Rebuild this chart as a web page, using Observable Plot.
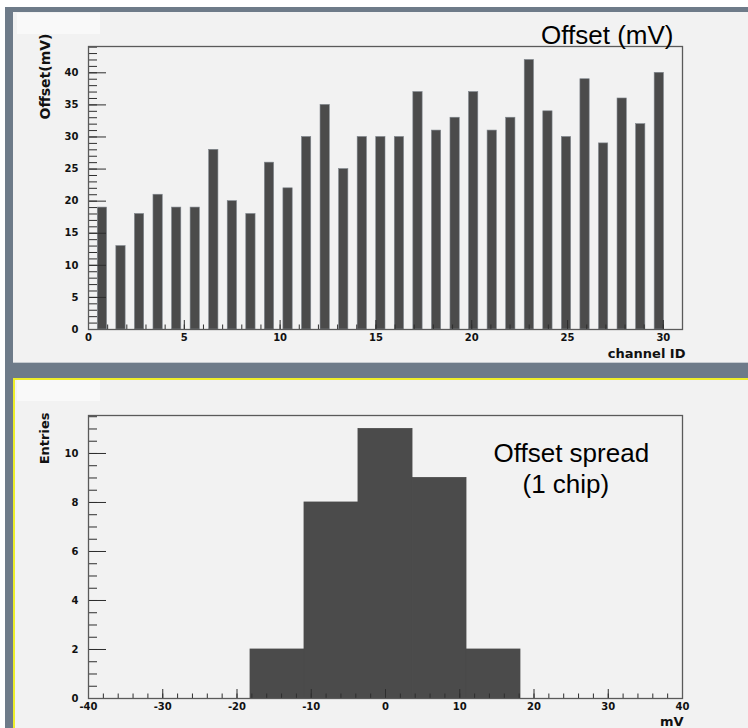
<!DOCTYPE html>
<html>
<head>
<meta charset="utf-8">
<script src="https://cdn.jsdelivr.net/npm/d3@7"></script>
<script src="https://cdn.jsdelivr.net/npm/@observablehq/plot@0.6"></script>
<style>
  body { margin: 0; background: #fff; }
  #wrap { position: relative; width: 748px; height: 728px; overflow: hidden; background: #fff; }
  #border { position: absolute; left: 5px; top: 7px; width: 743px; height: 721px; background: #6e7b89; }
  #p1 { position: absolute; left: 13px; top: 12px; width: 735px; height: 350px; background: #f2f2f2; border-bottom: 1px solid #c6cbd0; }
  #p2 { position: absolute; left: 13px; top: 378px; width: 735px; height: 350px; background: #f2f2f2; box-sizing: border-box; border-top: 2px solid #eeee2a; border-left: 2px solid #eeee2a; }
  .box { position: absolute; background: #f9f9f9; }
  .plot { position: absolute; }
</style>
</head>
<body>
<div id="wrap">
  <div id="border"></div>
  <div id="p1"></div>
  <div id="p2"></div>
  <div class="box" style="left:17px;top:13px;width:83px;height:21px;"></div>
  <div class="box" style="left:17px;top:380px;width:83px;height:21px;"></div>
  <div id="top" class="plot" style="left:13px;top:12px;"></div>
  <div id="bot" class="plot" style="left:13px;top:379px;"></div>
</div>
<script>
// ---- Data: top panel (offset per channel) ----
const channels = [0,1,2,3,4,5,6,7,8,9,10,11,12,13,14,15,16,17,18,19,20,21,22,23,24,25,26,27,28,29,30];
const offsets  = [19,13,18,21,19,19,28,20,18,26,22,30,35,25,30,30,30,37,31,33,37,31,33,42,34,30,39,29,36,32,40];
const topXTicks = [0,5,10,15,20,25,30];
const topYTicks = [0,5,10,15,20,25,30,35,40];

// ---- Data: bottom panel (offset spread histogram) ----
const binEdges = [-40,-32.73,-25.45,-18.18,-10.91,-3.64,3.64,10.91,18.18,25.45,32.73,40];
const entries  = [0,0,0,2,8,11,9,2,0,0,0];
const botXTicks = [-40,-30,-20,-10,0,10,20,30,40];
const botYTicks = [0,2,4,6,8,10];

const axisFont = "'DejaVu Sans', sans-serif";
const titleFont = "'Liberation Sans', Arial, sans-serif";
const barFill = "#4b4b4b";
const tickColor = "#2e2e2e";

// ---------- Top plot ----------
const W = 735, H1 = 350;
const m1 = {top: 34, right: 66, bottom: 33, left: 75};
const fw = W - m1.left - m1.right;
const fh1 = H1 - m1.top - m1.bottom;
const binW = 31 / 32;
const barData = channels.map((c, i) => ({ch: c, v: offsets[i]}));
const topMinorX = d3.range(0, 32, 1);
const topMinorY = d3.range(0, 45, 1);

const topPlot = Plot.plot({
  width: W, height: H1,
  marginTop: m1.top, marginRight: m1.right, marginBottom: m1.bottom, marginLeft: m1.left,
  x: {domain: [0, 31]},
  y: {domain: [0, 44.1]},
  style: {background: "transparent", overflow: "visible"},
  marks: [
    Plot.rect(barData, {
      x1: d => (d.ch + 0.5) * binW, x2: d => (d.ch + 1) * binW,
      y1: () => 0, y2: "v",
      fill: barFill, stroke: "#80878e", strokeWidth: 0.6
    }),
    Plot.tickY(topMinorY, {y: d => d, insetRight: fw - 9, stroke: tickColor}),
    Plot.tickY(topYTicks, {y: d => d, insetRight: fw - 18, stroke: tickColor}),
    Plot.tickX(topMinorX, {x: d => d, insetTop: fh1 - 4.5, stroke: tickColor}),
    Plot.tickX(topXTicks, {x: d => d, insetTop: fh1 - 9, stroke: tickColor}),
    Plot.frame({stroke: "#5a5a5a", strokeWidth: 1.3}),
    Plot.axisX({ticks: topXTicks, tickSize: 0, tickPadding: 4, tickFormat: d => String(d), label: null,
      fontFamily: axisFont, fontWeight: "bold", fontSize: 10, fill: "#111"}),
    Plot.axisY({ticks: topYTicks, tickSize: 0, tickPadding: 10, tickFormat: d => String(d), label: null,
      fontFamily: axisFont, fontWeight: "bold", fontSize: 10, fill: "#111"}),
    Plot.text(["Offset (mV)"], {text: d => d, frameAnchor: "top-left", dx: 585, dy: -3,
      textAnchor: "end", lineAnchor: "bottom", fontFamily: titleFont, fontSize: 26, fill: "#000"}),
    Plot.text(["Offset(mV)"], {text: d => d, frameAnchor: "top-left", dx: -43, dy: -13, rotate: -90,
      textAnchor: "end", lineAnchor: "middle", fontFamily: axisFont, fontWeight: "bold", fontSize: 14, fill: "#111"}),
    Plot.text(["channel ID"], {text: d => d, frameAnchor: "bottom-right", dx: 3, dy: 28,
      textAnchor: "end", lineAnchor: "bottom", fontFamily: axisFont, fontWeight: "bold", fontSize: 13, fill: "#111"})
  ]
});
document.getElementById("top").appendChild(topPlot);

// ---------- Bottom plot ----------
const H2 = 349;
const m2 = {top: 36, right: 66, bottom: 30, left: 75};
const fh2 = H2 - m2.top - m2.bottom;
const histData = entries.map((n, i) => ({x1: binEdges[i], x2: binEdges[i + 1], n}));
const botMinorX = d3.range(-40, 41, 2);
const botMinorY = d3.range(0, 11.6, 0.5);

const botPlot = Plot.plot({
  width: W, height: H2,
  marginTop: m2.top, marginRight: m2.right, marginBottom: m2.bottom, marginLeft: m2.left,
  x: {domain: [-40, 40]},
  y: {domain: [0, 11.55]},
  style: {background: "transparent", overflow: "visible"},
  marks: [
    Plot.rect(histData, {
      filter: d => d.n > 0,
      x1: "x1", x2: "x2", y1: () => 0, y2: "n",
      fill: barFill, stroke: barFill, strokeWidth: 0.8
    }),
    Plot.tickY(botMinorY, {y: d => d, insetRight: fw - 9, stroke: tickColor}),
    Plot.tickY(botYTicks, {y: d => d, insetRight: fw - 18, stroke: tickColor}),
    Plot.tickX(botMinorX, {x: d => d, insetTop: fh2 - 4.5, stroke: tickColor}),
    Plot.tickX(botXTicks, {x: d => d, insetTop: fh2 - 9, stroke: tickColor}),
    Plot.frame({stroke: "#5a5a5a", strokeWidth: 1.3}),
    Plot.axisX({ticks: botXTicks, tickSize: 0, tickPadding: 4, tickFormat: d => String(d), label: null,
      fontFamily: axisFont, fontWeight: "bold", fontSize: 10, fill: "#111"}),
    Plot.axisY({ticks: botYTicks, tickSize: 0, tickPadding: 10, tickFormat: d => String(d), label: null,
      fontFamily: axisFont, fontWeight: "bold", fontSize: 10, fill: "#111"}),
    Plot.text(["Offset spread"], {text: d => d, frameAnchor: "top-left", dx: 405, dy: 46,
      textAnchor: "start", lineAnchor: "bottom", fontFamily: titleFont, fontSize: 26, fill: "#000"}),
    Plot.text(["(1 chip)"], {text: d => d, frameAnchor: "top-left", dx: 434, dy: 77,
      textAnchor: "start", lineAnchor: "bottom", fontFamily: titleFont, fontSize: 26, fill: "#000"}),
    Plot.text(["Entries"], {text: d => d, frameAnchor: "top-left", dx: -44, dy: -3, rotate: -90,
      textAnchor: "end", lineAnchor: "middle", fontFamily: axisFont, fontWeight: "bold", fontSize: 13, fill: "#111"}),
    Plot.text(["mV"], {text: d => d, frameAnchor: "bottom-right", dx: 1, dy: 27,
      textAnchor: "end", lineAnchor: "bottom", fontFamily: axisFont, fontWeight: "bold", fontSize: 13, fill: "#111"})
  ]
});
document.getElementById("bot").appendChild(botPlot);
</script>
</body>
</html>
